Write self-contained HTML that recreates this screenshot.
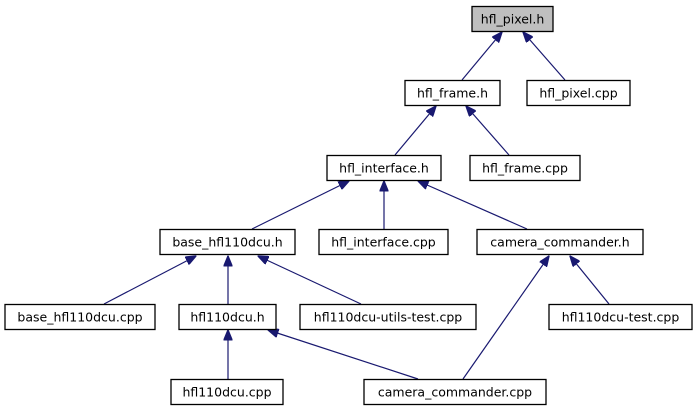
<!DOCTYPE html>
<html><head><meta charset="utf-8"><style>
html,body{margin:0;padding:0;background:#fff;}
svg{display:block;}
text{font-family:"DejaVu Sans","Liberation Sans",sans-serif;font-size:12.5px;fill:#000;text-anchor:middle;}
rect{fill:#fff;stroke:#000;stroke-width:1.3;}
line{stroke:#191970;stroke-width:1.2;}
</style></head><body>
<svg width="700" height="411" viewBox="0 0 700 411" xmlns="http://www.w3.org/2000/svg">
<defs><marker id="a" markerWidth="11" markerHeight="9" refX="10.5" refY="4.5" orient="auto" markerUnits="userSpaceOnUse"><path d="M0,0 L11,4.5 L0,9 Z" fill="#191970" stroke="#191970"/></marker></defs>
<g>
<line x1="462" y1="80" x2="502" y2="32" marker-end="url(#a)"/>
<line x1="565" y1="80" x2="523" y2="32" marker-end="url(#a)"/>
<line x1="395" y1="155" x2="436" y2="106" marker-end="url(#a)"/>
<line x1="509" y1="155" x2="466" y2="106" marker-end="url(#a)"/>
<line x1="252" y1="229" x2="349" y2="181" marker-end="url(#a)"/>
<line x1="384" y1="229" x2="384" y2="181" marker-end="url(#a)"/>
<line x1="527" y1="229" x2="418" y2="181" marker-end="url(#a)"/>
<line x1="104" y1="304" x2="196" y2="256" marker-end="url(#a)"/>
<line x1="228" y1="304" x2="228" y2="256" marker-end="url(#a)"/>
<line x1="361" y1="304" x2="258" y2="256" marker-end="url(#a)"/>
<line x1="609" y1="304" x2="570" y2="256" marker-end="url(#a)"/>
<line x1="463" y1="379" x2="549" y2="256" marker-end="url(#a)"/>
<line x1="228" y1="379" x2="228" y2="330" marker-end="url(#a)"/>
<line x1="418" y1="379" x2="268" y2="330" marker-end="url(#a)"/>
</g>
<rect x="472" y="6.5" width="81" height="25" style="fill:#bfbfbf"/><text x="512.5" y="23.5">hfl_pixel.h</text>
<rect x="405" y="80.5" width="95" height="25"/><text x="452.5" y="97.5">hfl_frame.h</text>
<rect x="527" y="80.5" width="103" height="25"/><text x="578.5" y="97.5">hfl_pixel.cpp</text>
<rect x="327" y="155.5" width="114" height="25"/><text x="384" y="172.5">hfl_interface.h</text>
<rect x="470" y="155.5" width="110" height="25"/><text x="525" y="172.5">hfl_frame.cpp</text>
<rect x="160" y="229.5" width="135" height="25"/><text x="227.5" y="246.5">base_hfl110dcu.h</text>
<rect x="319" y="229.5" width="129" height="25"/><text x="383.5" y="246.5">hfl_interface.cpp</text>
<rect x="477" y="229.5" width="166" height="25"/><text x="560" y="246.5">camera_commander.h</text>
<rect x="5" y="304.5" width="150" height="25"/><text x="80" y="321.5">base_hfl110dcu.cpp</text>
<rect x="179" y="304.5" width="97" height="25"/><text x="227.5" y="321.5">hfl110dcu.h</text>
<rect x="300" y="304.5" width="176" height="25"/><text x="388" y="321.5">hfl110dcu-utils-test.cpp</text>
<rect x="549" y="304.5" width="143" height="25"/><text x="620.5" y="321.5">hfl110dcu-test.cpp</text>
<rect x="171" y="379.5" width="112" height="25"/><text x="227" y="396.5">hfl110dcu.cpp</text>
<rect x="364" y="379.5" width="182" height="25"/><text x="455" y="396.5">camera_commander.cpp</text>
</svg>
</body></html>
